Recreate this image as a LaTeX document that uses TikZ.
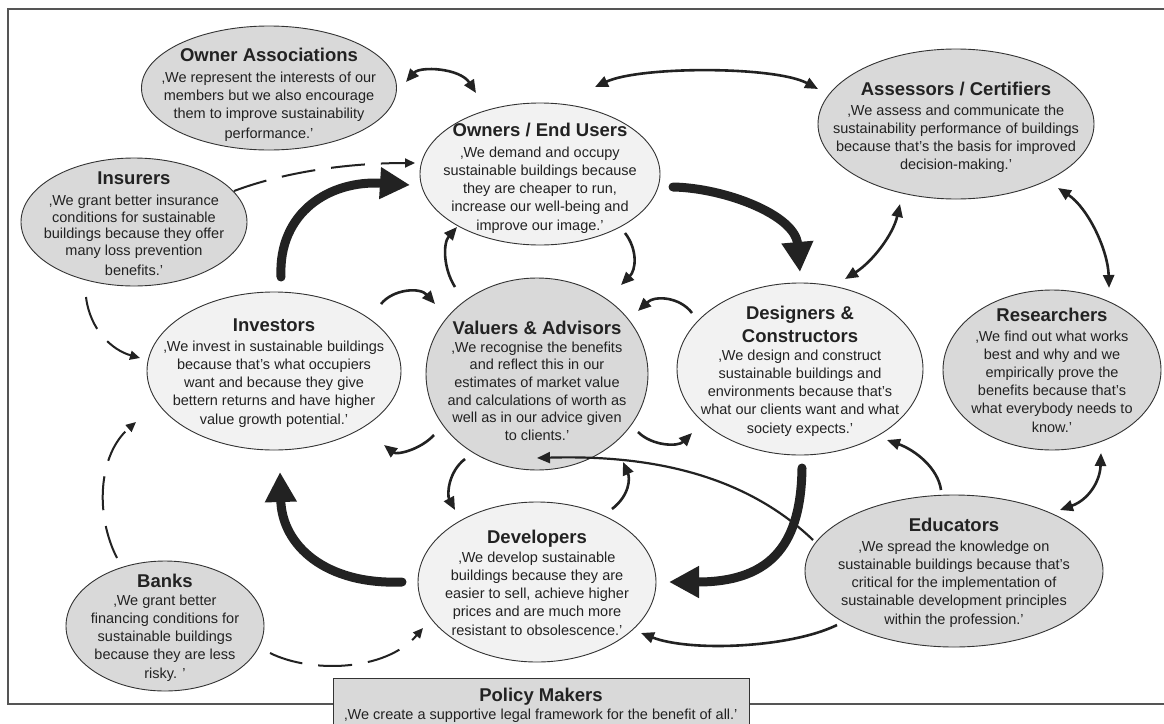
\documentclass[tikz,border=0pt]{standalone}
\usepackage{fontspec}
\setmainfont{Liberation Sans}
\usetikzlibrary{shapes.geometric,arrows.meta,calc}
\definecolor{darkfill}{HTML}{D9D9D9}
\definecolor{lightfill}{HTML}{F2F2F2}
\definecolor{edge}{HTML}{333333}
\definecolor{ink}{HTML}{222222}
\definecolor{framec}{HTML}{555555}
\begin{document}
\begin{tikzpicture}[x=1pt,y=-1pt,
  bub/.style={ellipse, draw=edge, line width=0.9pt, inner sep=0pt},
  dk/.style={bub, fill=darkfill},
  lt/.style={bub, fill=lightfill},
  ttl/.style={font=\fontsize{18.5}{23}\selectfont\bfseries, inner sep=0pt, anchor=north, align=center, text=ink},
  bdy/.style={font=\fontsize{14.5}{18}\selectfont, inner sep=0pt, anchor=north, align=center, text=ink},
  sarr/.style={draw=ink, line width=2.6pt, -{Triangle[length=13pt,width=11pt]}},
  darr/.style={draw=ink, line width=2.6pt, {Triangle[length=13pt,width=11pt]}-{Triangle[length=13pt,width=11pt]}},
  larr/.style={draw=ink, line width=2.2pt, -{Triangle[length=13pt,width=11pt]}},
  thk/.style={draw=ink, line width=9pt, line cap=round, -{Triangle[length=30pt,width=30pt]}},
  dsh/.style={draw=ink, line width=2pt, dash pattern=on 34pt off 16pt, -{Triangle[length=10pt,width=9pt]}},
]
\useasboundingbox (0,0) rectangle (1164,723);
\fill[white] (0,0) rectangle (1164,723);
\draw[framec, line width=1.3pt] (8,9) rectangle (1185,704);

% ellipses
\node[dk, minimum width=255, minimum height=124] (oa) at (269,88) {};
\node[lt, minimum width=240, minimum height=142] (ow) at (540,174) {};
\node[dk, minimum width=276, minimum height=150] (ac) at (956,124) {};
\node[dk, minimum width=226, minimum height=128] (ins) at (134,222) {};
\node[lt, minimum width=254, minimum height=158] (inv) at (274,371) {};
\node[dk, minimum width=222, minimum height=192] (val) at (537,374) {};
\node[lt, minimum width=246, minimum height=172] (des) at (800,369) {};
\node[dk, minimum width=218, minimum height=160] (res) at (1052,370) {};
\node[lt, minimum width=238, minimum height=160] (dev) at (537,582) {};
\node[dk, minimum width=298, minimum height=152] (edu) at (954,571) {};
\node[dk, minimum width=198, minimum height=130] (bank) at (165,626) {};
\node[rectangle, draw=edge, line width=0.9pt, fill=darkfill, minimum width=416, minimum height=52, anchor=north west, inner sep=0pt] (pol) at (333,678) {};

% texts
\node[ttl] (oaT) at (269,45.5) {\strut Owner Associations};
\node[bdy] (oaB) at (269,69.4) {\strut ‚We represent the interests of our\\members but we also encourage\\them to improve sustainability\\[2pt]performance.’};

\node[ttl] (owT) at (540,120.5) {\strut Owners / End Users};
\node[bdy] (owB) at (540,144.4) {\strut ‚We demand and occupy\\sustainable buildings because\\they are cheaper to run,\\increase our well-being and\\[1.5pt]improve our image.’};

\node[ttl] (acT) at (956,79.5) {\strut Assessors / Certifiers};
\node[bdy] (acB) at (956,102.4) {\strut ‚We assess and communicate the\\sustainability performance of buildings\\because that’s the basis for improved\\decision-making.’};

\node[ttl] (insT) at (134,168.5) {\strut Insurers};
\node[bdy, font=\fontsize{14.5}{16.6}\selectfont] (insB) at (134,193.6) {\strut ‚We grant better insurance\\conditions for sustainable\\buildings because they offer\\many loss prevention\\[3.5pt]benefits.’};

\node[ttl] (invT) at (274,315.5) {\strut Investors};
\node[bdy] (invB) at (274,338.4) {\strut ‚We invest in sustainable buildings\\because that’s what occupiers\\want and because they give\\bettern returns and have higher\\[1.5pt]value growth potential.’};

\node[ttl] (valT) at (537,318.5) {\strut Valuers \& Advisors};
\node[bdy, font=\fontsize{14.5}{17.6}\selectfont] (valB) at (537,339.7) {\strut ‚We recognise the benefits\\and reflect this in our\\estimates of market value\\and calculations of worth as\\well as in our advice given\\to clients.’};

\node[ttl] (desT) at (800,303.5) {\strut Designers \&\\Constructors};
\node[bdy] (desB) at (800,347.4) {\strut ‚We design and construct\\sustainable buildings and\\environments because that’s\\what our clients want and what\\[1.5pt]society expects.’};

\node[ttl] (resT) at (1052,305.5) {\strut Researchers};
\node[bdy] (resB) at (1052,328.4) {\strut ‚We find out what works\\best and why and we\\empirically prove the\\benefits because that’s\\what everybody needs to\\[1.5pt]know.’};

\node[ttl] (devT) at (537,527.5) {\strut Developers};
\node[bdy] (devB) at (537,549.4) {\strut ‚We develop sustainable\\buildings because they are\\easier to sell, achieve higher\\prices and are much more\\[1.5pt]resistant to obsolescence.’};

\node[ttl] (eduT) at (954,515.5) {\strut Educators};
\node[bdy] (eduB) at (954,538.4) {\strut ‚We spread the knowledge on\\sustainable buildings because that’s\\critical for the implementation of\\sustainable development principles\\[1.5pt]within the profession.’};

\node[ttl] (bankT) at (165,571.5) {\strut Banks};
\node[bdy] (bankB) at (165,592.4) {\strut ‚We grant better\\financing conditions for\\sustainable buildings\\because they are less\\[1.5pt]risky. ’};

\node[ttl] (polT) at (541,685.5) {\strut Policy Makers};
\node[bdy] (polB) at (541,706.4) {\strut ‚We create a supportive legal framework for the benefit of all.’};

% double arrows
\draw[darr] ($(oa)+(137,-6)$) .. controls (420,66) and (460,68) .. ($(ow)+(-64,-81)$);
\draw[darr] ($(ow)+(55,-87)$) .. controls (640,66) and (775,66) .. ($(ac)+(-138,-35)$);
\draw[darr] ($(ac)+(-56,80)$) .. controls (893,235) and (872,262) .. ($(des)+(45,-90)$);
\draw[darr] ($(ac)+(102,64)$) .. controls (1088,208) and (1108,250) .. ($(res)+(57,-82)$);
\draw[darr] ($(edu)+(106,-61)$) .. controls (1088,500) and (1100,482) .. ($(res)+(49,83)$);

% dashed arrows
\draw[dsh] ($(ins)+(100,-31)$) .. controls (290,170) and (355,163) .. ($(ow)+(-125,-11)$);
\draw[dsh] ($(ins)+(-48,75)$) .. controls (90,330) and (112,350) .. ($(inv)+(-134,-13)$);
\draw[dsh] ($(bank)+(-48,-68)$) .. controls (95,515) and (98,455) .. ($(inv)+(-138,51)$);
\draw[dsh] ($(bank)+(105,27)$) .. controls (310,673) and (385,672) .. ($(dev)+(-114,46)$);

% thick arrows
\draw[thk] ($(inv)+(7,-94)$) .. controls (278,212) and (330,180) .. ($(ow)+(-130,11)$);
\draw[thk] ($(ow)+(133,13)$) .. controls (725,188) and (795,215) .. ($(des)+(0,-97)$);
\draw[thk] ($(des)+(2,99)$) .. controls (801,540) and (775,582) .. ($(dev)+(132,0)$);
\draw[thk] ($(dev)+(-135,0)$) .. controls (325,585) and (282,545) .. ($(inv)+(6,101)$);

% small arrows
\draw[sarr] ($(inv)+(107,-67)$) .. controls (393,289) and (420,287) .. ($(val)+(-102,-70)$);
\draw[sarr] ($(val)+(-82,-87)$) .. controls (443,268) and (443,243) .. ($(ow)+(-83,53)$);
\draw[sarr] ($(ow)+(85,59)$) .. controls (638,250) and (636,270) .. ($(val)+(84,-89)$);
\draw[sarr] ($(des)+(-108,-56)$) .. controls (680,297) and (655,295) .. ($(val)+(101,-63)$);
\draw[sarr] ($(val)+(-103,61)$) .. controls (420,450) and (397,455) .. ($(inv)+(110,74)$);
\draw[sarr] ($(val)+(101,58)$) .. controls (652,446) and (678,447) .. ($(des)+(-108,64)$);
\draw[sarr] ($(val)+(-72,85)$) .. controls (448,472) and (447,495) .. ($(dev)+(-82,-72)$);
\draw[sarr] ($(dev)+(75,-73)$) .. controls (630,495) and (630,478) .. ($(val)+(86,88)$);
\draw[sarr] ($(edu)+(-13,-81)$) .. controls (938,468) and (915,450) .. ($(des)+(87,71)$);
\draw[sarr] ($(edu)+(-117,54)$) .. controls (790,648) and (690,652) .. ($(dev)+(104,51)$);
\draw[larr] ($(edu)+(-141,-31)$) .. controls (740,470) and (640,455) .. ($(val)+(0,84)$);
\end{tikzpicture}
\end{document}
